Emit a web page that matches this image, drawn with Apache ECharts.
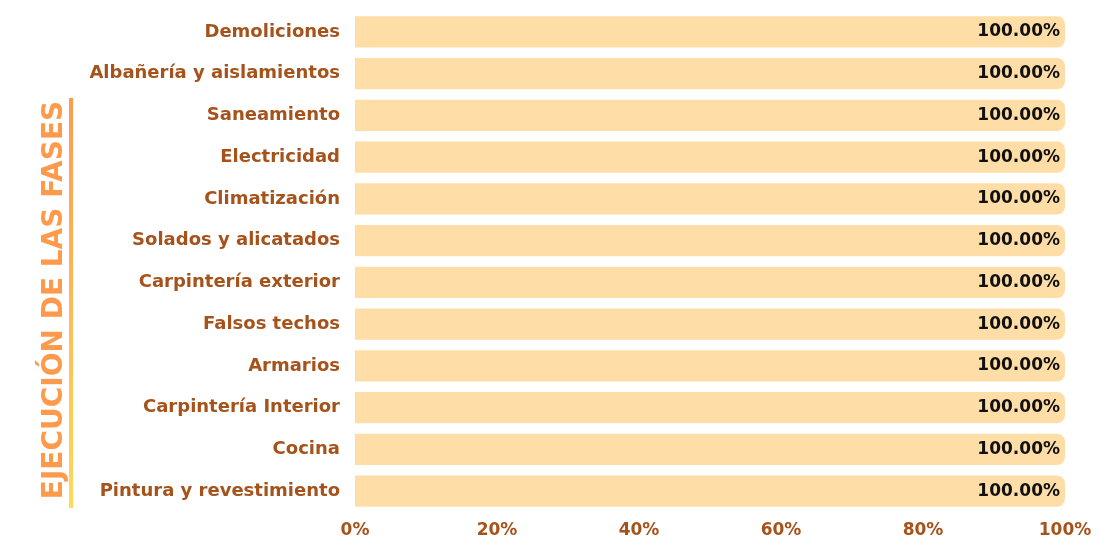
<!DOCTYPE html>
<html>
<head>
<meta charset="utf-8">
<script src="https://cdn.jsdelivr.net/npm/echarts@6/dist/echarts.min.js"></script>
<style>
  html, body { margin: 0; padding: 0; background: #fff; }
  #chart { width: 1100px; height: 550px; }
</style>
</head>
<body>
<div id="chart"></div>
<script>
// fases de la obra, de arriba abajo
const fases = [
  'Demoliciones',
  'Albañería y aislamientos',
  'Saneamiento',
  'Electricidad',
  'Climatización',
  'Solados y alicatados',
  'Carpintería exterior',
  'Falsos techos',
  'Armarios',
  'Carpintería Interior',
  'Cocina',
  'Pintura y revestimiento'
]
const avance = [100, 100, 100, 100, 100, 100, 100, 100, 100, 100, 100, 100]
const titulo = 'EJECUCIÓN DE LAS FASES'

const font = '"DejaVu Sans", sans-serif'
const marron = '#a5521b'

const chart = echarts.init(document.getElementById('chart'))

chart.setOption({
  animation: false,
  grid: { left: 355, right: 35, top: 11, bottom: 38, containLabel: false },
  xAxis: {
    type: 'value',
    min: 0,
    max: 100,
    interval: 20,
    axisLine: { show: false },
    axisTick: { show: false },
    splitLine: { show: false },
    axisLabel: {
      formatter: '{value}%',
      color: marron,
      fontFamily: font,
      fontSize: 17,
      fontWeight: 'bold',
      margin: 10
    }
  },
  yAxis: {
    type: 'category',
    data: fases,
    inverse: true,
    axisLine: { show: false },
    axisTick: { show: false },
    axisLabel: {
      color: marron,
      fontFamily: font,
      fontSize: 18,
      fontWeight: 'bold',
      margin: 15
    }
  },
  series: [{
    type: 'bar',
    data: avance,
    barWidth: '75%',
    itemStyle: { color: '#fedda6', borderRadius: [0, 8, 8, 0] },
    label: {
      show: true,
      position: 'insideRight',
      distance: 5,
      formatter: p => p.value.toFixed(2) + '%',
      color: '#111',
      fontFamily: font,
      fontSize: 17,
      fontWeight: 'bold'
    }
  }],
  graphic: [
    {
      type: 'text',
      x: 55,
      y: 300,
      rotation: Math.PI / 2,
      style: {
        text: titulo,
        fill: '#ff9a4d',
        font: 'bold 28px ' + font,
        align: 'center',
        verticalAlign: 'middle'
      }
    },
    {
      type: 'rect',
      shape: { x: 69, y: 98, width: 4, height: 410 },
      style: {
        fill: new echarts.graphic.LinearGradient(0, 0, 0, 1, [
          { offset: 0, color: '#ff9a4d' },
          { offset: 1, color: '#ffd95a' }
        ])
      }
    }
  ]
})
</script>
</body>
</html>
